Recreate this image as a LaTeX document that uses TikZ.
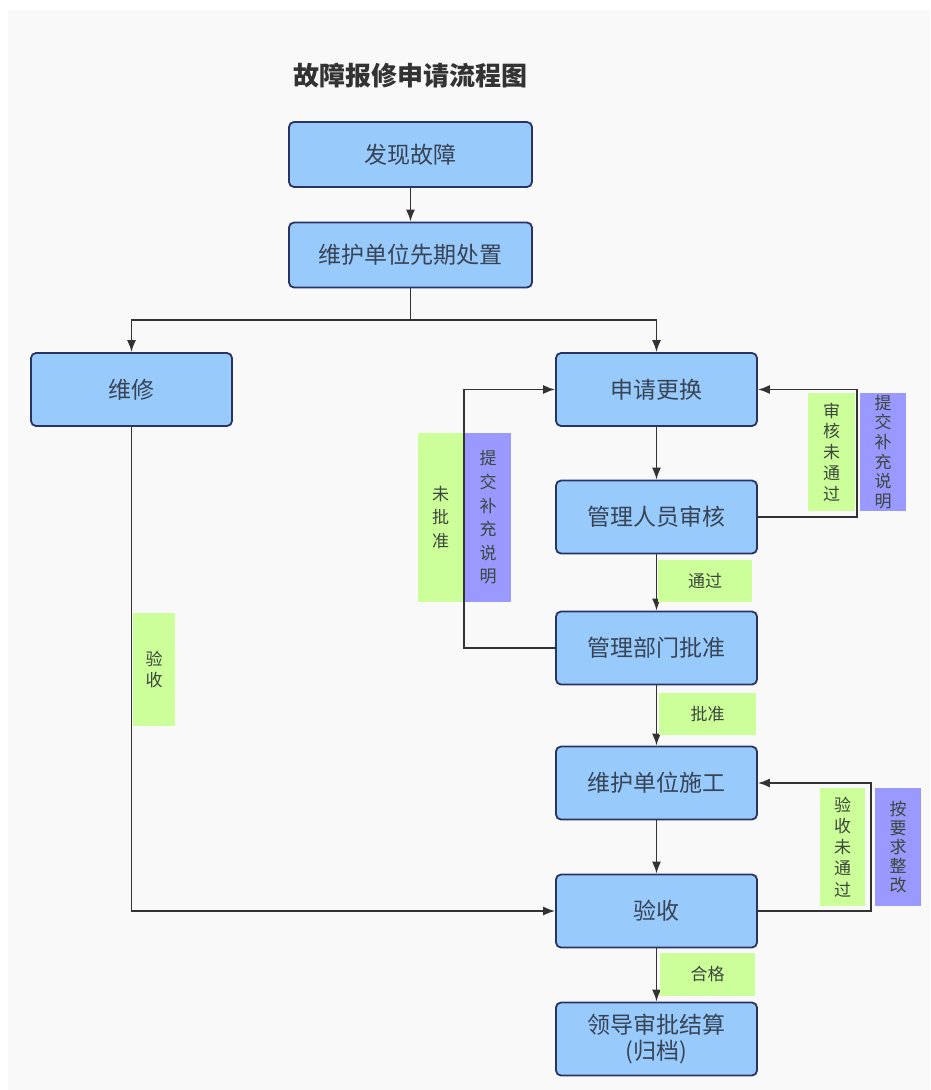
\documentclass[tikz,border=0pt]{standalone}
\usepackage{fontspec}
\setmainfont{Noto Sans CJK SC}
\usetikzlibrary{arrows.meta}
\definecolor{boxfill}{RGB}{153,202,252}
\definecolor{boxline}{RGB}{40,52,100}
\definecolor{boxtext}{RGB}{55,68,85}
\definecolor{lg}{RGB}{204,255,153}
\definecolor{lp}{RGB}{153,153,255}
\definecolor{bgc}{RGB}{249,249,249}
\definecolor{conncol}{RGB}{51,51,51}
\definecolor{labtext}{RGB}{60,70,60}
\begin{document}
\begin{tikzpicture}[x=1pt,y=-1pt,
 box/.style={draw=boxline,fill=boxfill,line width=1.8pt,rounded corners=5pt,text=boxtext,font=\fontsize{23}{26}\selectfont,minimum width=201pt,minimum height=73pt,inner sep=0pt,align=center},
 wide/.style={box,minimum width=243pt,minimum height=65pt},
 lab/.style={inner sep=0pt,text=labtext,align=center,font=\fontsize{17}{#1}\selectfont},
 glab/.style={lab=#1,fill=lg},
 plab/.style={lab=#1,fill=lp},
 conn/.style={draw=conncol,line width=1.7pt,-{Latex[length=12pt,width=9pt]}},
 line/.style={draw=conncol,line width=1.7pt}
 ]
\path[use as bounding box] (0,0) rectangle (930,1090);
\fill[white] (0,0) rectangle (930,1090);
\fill[bgc] (8,10) rectangle (930,1090);

\node[font=\fontsize{26}{30}\selectfont\bfseries,text=black!80] (title) at (410.5,76) {故障报修申请流程图};

\node[wide] (n1) at (410.5,154.5) {发现故障};
\node[wide] (n2) at (410.5,255) {维护单位先期处置};
\node[box] (wx) at (131.5,389.5) {维修};
\node[box] (sq) at (656.5,389.5) {申请更换};
\node[box] (sh) at (656.5,517) {管理人员审核};
\node[box] (pz) at (656.5,648) {管理部门批准};
\node[box] (sg) at (656.5,783) {维护单位施工};
\node[box] (ys) at (656.5,911) {验收};
\node[box] (ld) at (656.5,1039) {领导审批结算\\(归档)};

\coordinate (split) at (410.5,320);
\coordinate (r1) at (857,517);
\coordinate (l1) at (464,648);
\coordinate (r2) at (871,911);

\draw[conn] (n1) -- (n2);
\draw[line] (n2.south) -- (split);
\draw[conn] (split) -| (wx.north);
\draw[conn] (split) -| (sq.north);
\draw[conn] (wx.south) |- (ys.west);
\draw[conn] (sq) -- (sh);
\draw[conn] (sh.east) -- (r1) |- (sq.east);
\draw[conn] (sh) -- (pz);
\draw[conn] (pz.west) -- (l1) |- (sq.west);
\draw[conn] (pz) -- (sg);
\draw[conn] (sg) -- (ys);
\draw[conn] (ys.east) -- (r2) |- (sg.east);
\draw[conn] (ys) -- (ld);

\node[glab=20,minimum width=94pt,minimum height=42pt] (tg) at (705,581) {通过};
\node[glab=20,minimum width=97pt,minimum height=42pt] (pzl) at (707.5,714) {批准};
\node[glab=20,minimum width=95pt,minimum height=43pt] (hg) at (707.5,974.5) {合格};
\node[glab=23.5,minimum width=45pt,minimum height=169pt] (wpz) at (440.5,517.5) {未\\批\\准};
\node[plab=23.6,minimum width=46pt,minimum height=169pt] (tj1) at (488,517.5) {提\\交\\补\\充\\说\\明};
\node[glab=20.8,minimum width=47pt,minimum height=118pt] (shw) at (831.5,452) {审\\核\\未\\通\\过};
\node[plab=19.6,minimum width=46pt,minimum height=118pt] (tj2) at (883,452) {提\\交\\补\\充\\说\\明};
\node[glab=21.2,minimum width=45pt,minimum height=118pt] (ysw) at (842.5,847) {验\\收\\未\\通\\过};
\node[plab=18.8,minimum width=46pt,minimum height=118pt] (zg) at (898,847) {按\\要\\求\\整\\改};
\node[glab=21,minimum width=42pt,minimum height=113pt] (ysl) at (154,669) {验\\收};
\end{tikzpicture}
\end{document}
